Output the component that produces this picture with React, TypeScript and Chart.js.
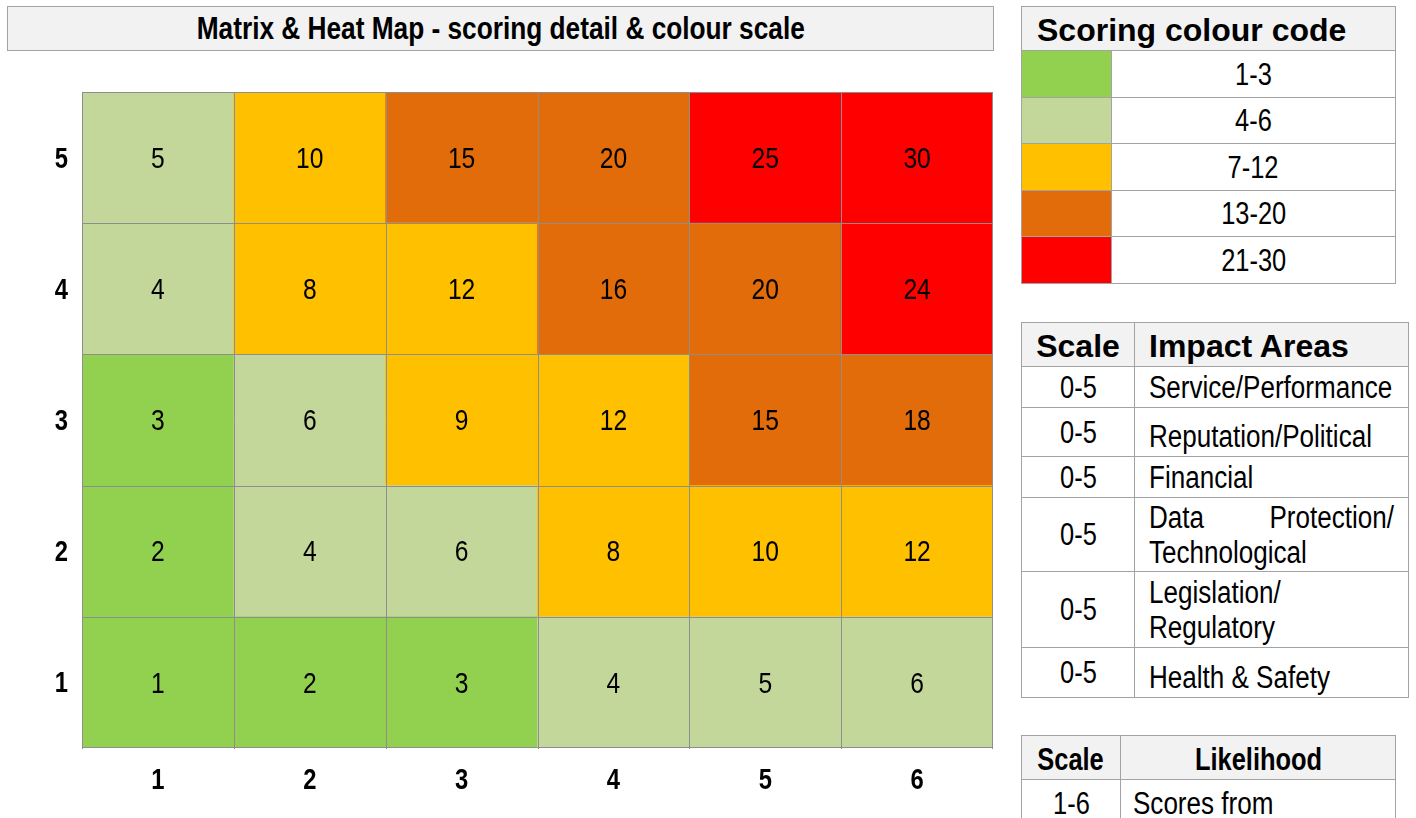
import React, { useEffect, useRef } from 'react';
import { Chart, registerables } from 'chart.js';

Chart.register(...registerables);

const NARROW = '"Liberation Sans", Arial, sans-serif';
const WIDE = '"Liberation Sans", Arial, sans-serif';
const SQUEEZE = 0.82; // emulate a narrow face (Arial Narrow proportions)
const SQUEEZE_TEXT = 0.84; // lowercase words are a little wider in the narrow face

// ---------- data ----------
const chartTitle = 'Matrix & Heat Map - scoring detail & colour scale';
const likelihoodLabels = ['1', '2', '3', '4', '5', '6'];
const impactLabels = ['1', '2', '3', '4', '5'];

const scoresImpact1 = [1, 2, 3, 4, 5, 6];
const scoresImpact2 = [2, 4, 6, 8, 10, 12];
const scoresImpact3 = [3, 6, 9, 12, 15, 18];
const scoresImpact4 = [4, 8, 12, 16, 20, 24];
const scoresImpact5 = [5, 10, 15, 20, 25, 30];
const scoreRows = [scoresImpact1, scoresImpact2, scoresImpact3, scoresImpact4, scoresImpact5];
const cellHeight = [1, 1, 1, 1, 1, 1];

const bandLabels = ['1-3', '4-6', '7-12', '13-20', '21-30'];
const bandUpper = [3, 6, 12, 20, 30];
const bandColours = ['#92D050', '#C4D79B', '#FFC000', '#E26B0A', '#FF0000'];

const impactScale = ['0-5', '0-5', '0-5', '0-5', '0-5', '0-5'];
const impactAreas = [
  'Service/Performance',
  'Reputation/Political',
  'Financial',
  'Data Protection/ Technological',
  'Legislation/ Regulatory',
  'Health & Safety',
];
const likelihoodScale = ['1-6'];
const likelihoodText = ['Scores from'];

function colourFor(score: number): string {
  const i = bandUpper.findIndex((u) => score <= u);
  return bandColours[i < 0 ? bandColours.length - 1 : i];
}

const GRID = '#8E8E8E';
const TBORDER = '#A3A3A3';
const HEAD = '#F2F2F2';

// Condense every text drawn by the chart (ticks and cell values) to narrow proportions.
const narrowPlugin = {
  id: 'narrowText',
  beforeDraw(chart: any) {
    const ctx = chart.ctx as any;
    const base = CanvasRenderingContext2D.prototype.fillText;
    ctx.fillText = function (text: string, x: number, y: number, maxWidth?: number) {
      const w = this.measureText(String(text)).width * SQUEEZE;
      const mw = maxWidth !== undefined ? Math.min(maxWidth, w) : w;
      return base.call(this, text, x, y, mw);
    };
  },
  afterDraw(chart: any) {
    delete (chart.ctx as any).fillText;
  },
};

const cellPlugin = {
  id: 'cellPlugin',
  afterDatasetsDraw(chart: any) {
    const ctx = chart.ctx as CanvasRenderingContext2D;
    const ys = chart.scales.y;
    ctx.save();
    const meta0 = chart.getDatasetMeta(0);
    const bounds: number[] = [];
    meta0.data.forEach((el: any, i: number) => {
      const p = el.getProps(['x', 'width'], true);
      bounds.push(p.x - p.width / 2);
      if (i === meta0.data.length - 1) bounds.push(p.x + p.width / 2);
    });
    const yTop = ys.getPixelForValue(impactLabels.length);
    const yBot = ys.getPixelForValue(0);
    ctx.strokeStyle = GRID;
    ctx.lineWidth = 1;
    ctx.beginPath();
    bounds.forEach((bx, i) => {
      const x = i === bounds.length - 1 ? Math.round(bx) - 0.5 : Math.round(bx) + 0.5;
      ctx.moveTo(x, yTop);
      ctx.lineTo(x, yBot + 1);
    });
    for (let j = 0; j <= impactLabels.length; j++) {
      const yy = ys.getPixelForValue(j);
      const y = j === 0 ? Math.round(yy) - 0.5 : Math.round(yy) + 0.5;
      ctx.moveTo(bounds[0], y);
      ctx.lineTo(bounds[bounds.length - 1], y);
    }
    ctx.stroke();

    ctx.fillStyle = '#000';
    ctx.font = `30px ${NARROW}`;
    ctx.textAlign = 'center';
    ctx.textBaseline = 'middle';
    chart.data.datasets.forEach((_ds: any, di: number) => {
      const meta = chart.getDatasetMeta(di);
      meta.data.forEach((el: any, i: number) => {
        const p = el.getProps(['x', 'y', 'base'], true);
        ctx.fillText(String(scoreRows[di][i]), p.x, (p.y + p.base) / 2 + 2);
      });
    });
    ctx.restore();
  },
};

function Narrow({ children, origin = 'center', k = SQUEEZE }: { children: React.ReactNode; origin?: string; k?: number }) {
  return (
    <span
      style={{
        display: 'inline-block',
        whiteSpace: 'nowrap',
        transform: `scaleX(${k})`,
        transformOrigin: origin,
      }}
    >
      {children}
    </span>
  );
}

type CellSpec = {
  x0: number;
  x1: number;
  y0: number;
  y1: number;
  bg?: string;
  content?: React.ReactNode;
  style?: React.CSSProperties;
};

function Cell({ x0, x1, y0, y1, bg, content, style }: CellSpec) {
  return (
    <div
      style={{
        position: 'absolute',
        left: x0,
        top: y0,
        width: x1 - x0 + 1,
        height: y1 - y0 + 1,
        boxSizing: 'border-box',
        border: `1px solid ${TBORDER}`,
        background: bg || '#FFFFFF',
        display: 'flex',
        alignItems: 'center',
        justifyContent: 'center',
        color: '#000',
        fontFamily: NARROW,
        fontSize: 31,
        lineHeight: '35px',
        overflow: 'hidden',
        ...style,
      }}
    >
      {content}
    </div>
  );
}

function ScoringTable() {
  const xs = [1021, 1111, 1395];
  const ys = [6, 50, 97, 143, 190, 236, 283];
  return (
    <>
      <Cell
        x0={xs[0]}
        x1={xs[2]}
        y0={ys[0]}
        y1={ys[1]}
        bg={HEAD}
        style={{ justifyContent: 'flex-start', paddingLeft: 15, paddingTop: 4, fontFamily: WIDE, fontWeight: 'bold', fontSize: 32 }}
        content="Scoring colour code"
      />
      {bandLabels.map((lab, i) => (
        <React.Fragment key={lab}>
          <Cell x0={xs[0]} x1={xs[1]} y0={ys[i + 1]} y1={ys[i + 2]} bg={bandColours[i]} />
          <Cell x0={xs[1]} x1={xs[2]} y0={ys[i + 1]} y1={ys[i + 2]} content={<Narrow>{lab}</Narrow>} />
        </React.Fragment>
      ))}
    </>
  );
}

function ImpactTable() {
  const xs = [1021, 1134, 1408];
  const ys = [322, 366, 407, 456, 497, 571, 647, 697];
  const textWidth = (xs[2] - xs[1] - 14 - 15) / SQUEEZE_TEXT;
  return (
    <>
      <Cell x0={xs[0]} x1={xs[1]} y0={ys[0]} y1={ys[1]} bg={HEAD}
        style={{ paddingTop: 3, fontFamily: WIDE, fontWeight: 'bold', fontSize: 32 }} content="Scale" />
      <Cell x0={xs[1]} x1={xs[2]} y0={ys[0]} y1={ys[1]} bg={HEAD}
        style={{ justifyContent: 'flex-start', paddingLeft: 14, paddingTop: 3, fontFamily: WIDE, fontWeight: 'bold', fontSize: 32 }}
        content="Impact Areas" />
      {impactAreas.map((area, i) => {
        const wraps = area.includes('/ ');
        return (
          <React.Fragment key={area}>
            <Cell x0={xs[0]} x1={xs[1]} y0={ys[i + 1]} y1={ys[i + 2]} content={<Narrow>{impactScale[i]}</Narrow>} />
            <Cell
              x0={xs[1]}
              x1={xs[2]}
              y0={ys[i + 1]}
              y1={ys[i + 2]}
              style={{
                justifyContent: 'flex-start',
                alignItems: wraps ? 'center' : 'flex-end',
                paddingLeft: 14,
                paddingBottom: wraps ? 0 : 2,
              }}
              content={
                <div
                  style={{
                    flex: 'none',
                    width: textWidth,
                    textAlign: 'justify',
                    whiteSpace: wraps ? 'normal' : 'nowrap',
                    transform: `scaleX(${SQUEEZE_TEXT})`,
                    transformOrigin: 'left center',
                  }}
                >
                  {area}
                </div>
              }
            />
          </React.Fragment>
        );
      })}
    </>
  );
}

function LikelihoodTable() {
  const xs = [1021, 1120, 1395];
  const ys = [735, 779, 835];
  return (
    <>
      <Cell x0={xs[0]} x1={xs[1]} y0={ys[0]} y1={ys[1]} bg={HEAD}
        style={{ paddingTop: 4, fontWeight: 'bold', fontSize: 31 }} content={<Narrow>Scale</Narrow>} />
      <Cell x0={xs[1]} x1={xs[2]} y0={ys[0]} y1={ys[1]} bg={HEAD}
        style={{ paddingTop: 4, fontWeight: 'bold', fontSize: 31 }} content={<Narrow>Likelihood</Narrow>} />
      {likelihoodScale.map((s, i) => (
        <React.Fragment key={s}>
          <Cell x0={xs[0]} x1={xs[1]} y0={ys[i + 1]} y1={ys[i + 2]}
            style={{ alignItems: 'flex-start', paddingTop: 6 }} content={<Narrow>{s}</Narrow>} />
          <Cell x0={xs[1]} x1={xs[2]} y0={ys[i + 1]} y1={ys[i + 2]}
            style={{ alignItems: 'flex-start', justifyContent: 'flex-start', paddingLeft: 12, paddingTop: 6 }}
            content={<Narrow origin="left center" k={SQUEEZE_TEXT}>{likelihoodText[i]}</Narrow>} />
        </React.Fragment>
      ))}
    </>
  );
}

export default function App() {
  const ref = useRef<HTMLCanvasElement>(null);

  useEffect(() => {
    const chart = new Chart(ref.current as HTMLCanvasElement, {
      type: 'bar',
      data: {
        labels: likelihoodLabels,
        datasets: impactLabels.map((lab, r) => ({
          label: 'Impact ' + lab,
          data: cellHeight,
          backgroundColor: scoreRows[r].map(colourFor),
          borderWidth: 0,
          barPercentage: 1,
          categoryPercentage: 1,
        })),
      },
      options: {
        responsive: false,
        animation: false,
        devicePixelRatio: 1,
        layout: { padding: { top: 92, right: 7, left: 0, bottom: 0 } },
        plugins: { legend: { display: false }, tooltip: { enabled: false }, title: { display: false } },
        scales: {
          x: {
            stacked: true,
            grid: { display: false, drawTicks: false },
            border: { display: false },
            ticks: { color: '#000', font: { family: NARROW, size: 29, weight: 'bold' }, padding: 16 },
            afterFit: (s: any) => {
              s.height = 70;
            },
          },
          y: {
            type: 'linear',
            stacked: true,
            min: 0,
            max: impactLabels.length,
            grid: { display: false, drawTicks: false },
            border: { display: false },
            afterBuildTicks: (s: any) => {
              s.ticks = impactLabels.map((_l, i) => ({ value: i + 0.5 }));
            },
            ticks: {
              color: '#000',
              font: { family: NARROW, size: 29, weight: 'bold' },
              padding: 14,
              labelOffset: 2,
              callback: (_v: any, i: number) => impactLabels[i],
            },
            afterFit: (s: any) => {
              s.width = 82;
            },
          },
        },
      } as any,
      plugins: [narrowPlugin, cellPlugin],
    });
    return () => chart.destroy();
  }, []);

  return (
    <div style={{ position: 'absolute', left: 0, top: 0, width: 1416, height: 818, overflow: 'hidden', background: '#fff' }}>
      <div
        style={{
          position: 'absolute',
          left: 7,
          top: 6,
          width: 987,
          height: 45,
          boxSizing: 'border-box',
          border: `1px solid ${TBORDER}`,
          background: HEAD,
          display: 'flex',
          alignItems: 'center',
          justifyContent: 'center',
          fontFamily: NARROW,
          fontWeight: 'bold',
          fontSize: 32,
          color: '#000',
        }}
      >
        <Narrow>{chartTitle}</Narrow>
      </div>
      <canvas ref={ref} width={1000} height={818} style={{ position: 'absolute', left: 0, top: 0, width: 1000, height: 818 }} />
      <ScoringTable />
      <ImpactTable />
      <LikelihoodTable />
    </div>
  );
}
